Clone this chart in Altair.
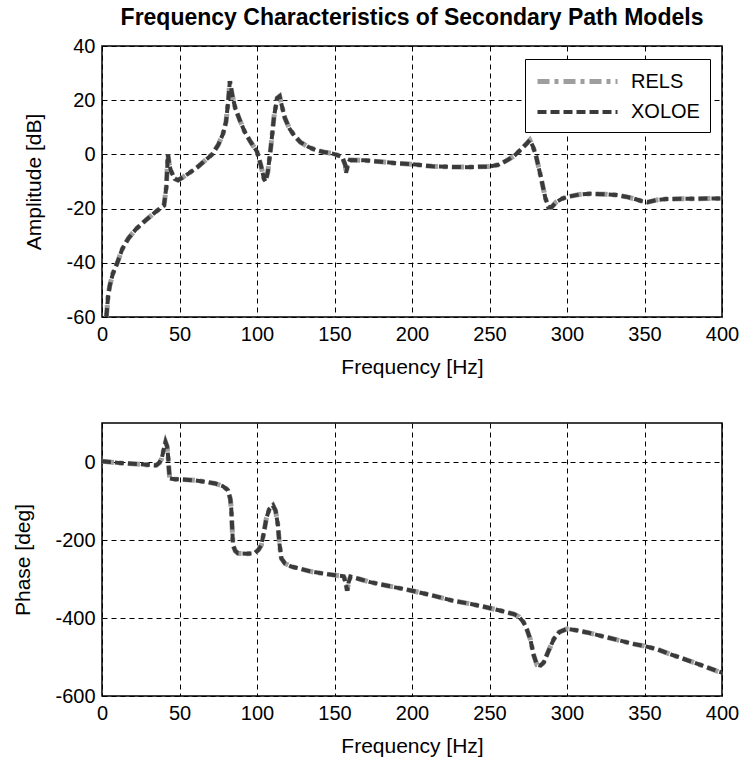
import altair as alt
import pandas as pd

series = ["RELS", "XOLOE"]

amp_freq = [2.8, 4, 5, 7, 10, 13, 17, 22, 28, 34, 40, 41.5, 42.5, 43.5, 44.7, 47, 49, 52, 56, 62, 67, 71, 75, 78, 80, 81.5, 82.5, 84, 86, 89, 92, 96, 100, 102.5, 104.5, 105.5, 107, 109, 111, 113, 114.6, 116, 118, 121, 124, 128, 133, 138, 143, 148, 152, 155, 157, 157.5, 158.5, 160, 169, 180, 190, 200, 213, 225, 235, 250, 256, 261, 266, 271, 274, 276, 278, 280, 283, 286, 288, 290, 293, 297, 300, 308, 315, 325, 332, 338, 343, 348, 352, 358, 364, 375, 390, 400]
amp_rels = [-60, -52, -48.5, -44, -39.8, -35, -31, -27.5, -24.4, -21.5, -18.8, -12, 0, -4, -6.4, -9, -9.5, -8.5, -7, -4.5, -2, 0, 3.5, 7.5, 12, 20, 27, 22, 17, 12.5, 8.4, 4.5, 1, -4, -9, -10, -6.4, 3, 14, 20.8, 21.5, 18, 13.4, 9.5, 7, 4.5, 2.8, 1.6, 0.9, 0.4, -0.3, -1, -4, -6.8, -4, -2.1, -2.2, -2.7, -3.3, -3.6, -4.4, -4.6, -4.7, -4.5, -3.8, -2.3, -0.5, 2.2, 4, 5.3, 3, -0.5, -8, -16, -19.5, -19.5, -17.6, -16.3, -15.7, -14.8, -14.5, -14.7, -15, -15.6, -16.3, -17.2, -17.6, -16.8, -16.5, -16.4, -16.3, -16.3]
amp_xoloe = list(amp_rels)

ph_freq = [0, 5, 10, 17, 25, 32, 35, 37, 38.5, 40, 41, 42, 42.6, 43.2, 43.7, 47, 52, 60, 67, 73, 78, 81.3, 82.8, 83.4, 84, 84.5, 86, 87.7, 93, 98.5, 101, 102.8, 104.5, 106, 108, 110.3, 112, 113.5, 114.5, 115.7, 118, 122, 128, 135, 141, 149.6, 156, 157.5, 158.2, 159, 160.3, 166, 173, 185, 200, 213, 226.7, 238, 248.5, 258, 265.7, 269, 272, 274, 276.3, 278.5, 280.6, 283, 285, 288, 291.5, 295, 300, 307, 313, 323, 334.4, 342, 349, 358, 366.8, 374, 381.7, 390, 396.8, 400]
ph_rels = [2, 0, -2, -4, -6, -8, -8.5, -2, 8.5, 35, 51, 40, 17, -20, -42, -44, -45, -47, -51, -55, -62, -72, -95, -120, -170, -213, -228, -234, -235, -234, -225, -213, -180, -145, -120, -111, -125, -162, -210, -247, -260, -268, -274, -281, -285, -290, -293, -315, -330, -310, -294, -300, -308, -318, -330, -342, -356, -364, -373, -382, -390, -397, -411, -428, -454, -495, -520, -522, -514, -485, -454, -436, -428, -432, -437, -447, -458, -466, -471, -480, -493, -503, -514, -526, -536, -540]
ph_xoloe = list(ph_rels)

amp_ticks = [-60, -40, -20, 0, 20, 40]
ph_ticks = [-600, -400, -200, 0]
freq_ticks = [0, 50, 100, 150, 200, 250, 300, 350, 400]

amp_df = pd.concat([
    pd.DataFrame({"f": amp_freq, "v": amp_rels, "s": "RELS"}),
    pd.DataFrame({"f": amp_freq, "v": amp_xoloe, "s": "XOLOE"}),
])
ph_df = pd.concat([
    pd.DataFrame({"f": ph_freq, "v": ph_rels, "s": "RELS"}),
    pd.DataFrame({"f": ph_freq, "v": ph_xoloe, "s": "XOLOE"}),
])

FONT = "Liberation Sans"


def make_legend(ly):
    return alt.Legend(
        title=None, orient="none", legendX=423, legendY=ly,
        strokeColor="black", fillColor="white", padding=10,
        symbolType="M-4,0H4", symbolSize=400, symbolOffset=30, labelOffset=41,
        labelFontSize=20, labelFont=FONT, labelColor="black", rowPadding=8,
        labelLimit=200,
    )


def panel(df, ydom, yticks, ytitle, h, ly, ytp):
    xaxis = alt.Axis(values=freq_ticks, title="Frequency [Hz]", labelFlush=False, labelOverlap=False)
    yaxis = alt.Axis(values=yticks, title=ytitle, labelFlush=False, labelOverlap=False,
                     titlePadding=ytp, labelExpr="'' + datum.value")
    lg = make_legend(ly)
    return alt.Chart(df).mark_line(clip=True, strokeCap="butt").encode(
        x=alt.X("f:Q", scale=alt.Scale(domain=[0, 400], nice=False), axis=xaxis),
        y=alt.Y("v:Q", scale=alt.Scale(domain=ydom, nice=False), axis=yaxis),
        color=alt.Color("s:N", scale=alt.Scale(domain=series, range=["#9e9e9e", "#3a3a3a"]), legend=lg),
        strokeDash=alt.StrokeDash("s:N", scale=alt.Scale(domain=series, range=[[12, 5, 4, 5], [9, 4]]), legend=lg),
        strokeWidth=alt.StrokeWidth("s:N", scale=alt.Scale(domain=series, range=[5, 4]), legend=lg),
        order=alt.Order("s:N"),
    ).properties(width=620, height=h)


top = panel(amp_df, [-60, 40], amp_ticks, "Amplitude [dB]", 271, 13, 22).properties(
    title=alt.Title("Frequency Characteristics of Secondary Path Models",
                    font=FONT, fontSize=23, fontWeight="bold", anchor="middle", offset=6,
                    color="black")
)
bottom = panel(ph_df, [-600, 100], ph_ticks, "Phase [deg]", 273, 14, 21)

chart = alt.vconcat(
    top, bottom, spacing=44,
    padding={"left": 12, "top": 6, "right": 0, "bottom": 0},
).configure_view(
    stroke="black", strokeWidth=1.5
).configure_axis(
    grid=True, gridColor="black", gridDash=[5, 4], gridOpacity=1, gridWidth=1,
    domain=False, ticks=False,
    labelFont=FONT, labelFontSize=20, labelColor="black", labelPadding=7,
    titleFont=FONT, titleFontSize=21, titleFontWeight="normal", titleColor="black",
).configure_axisX(titlePadding=12)

chart.save("out.html", embed_options={"renderer": "svg", "actions": False})
